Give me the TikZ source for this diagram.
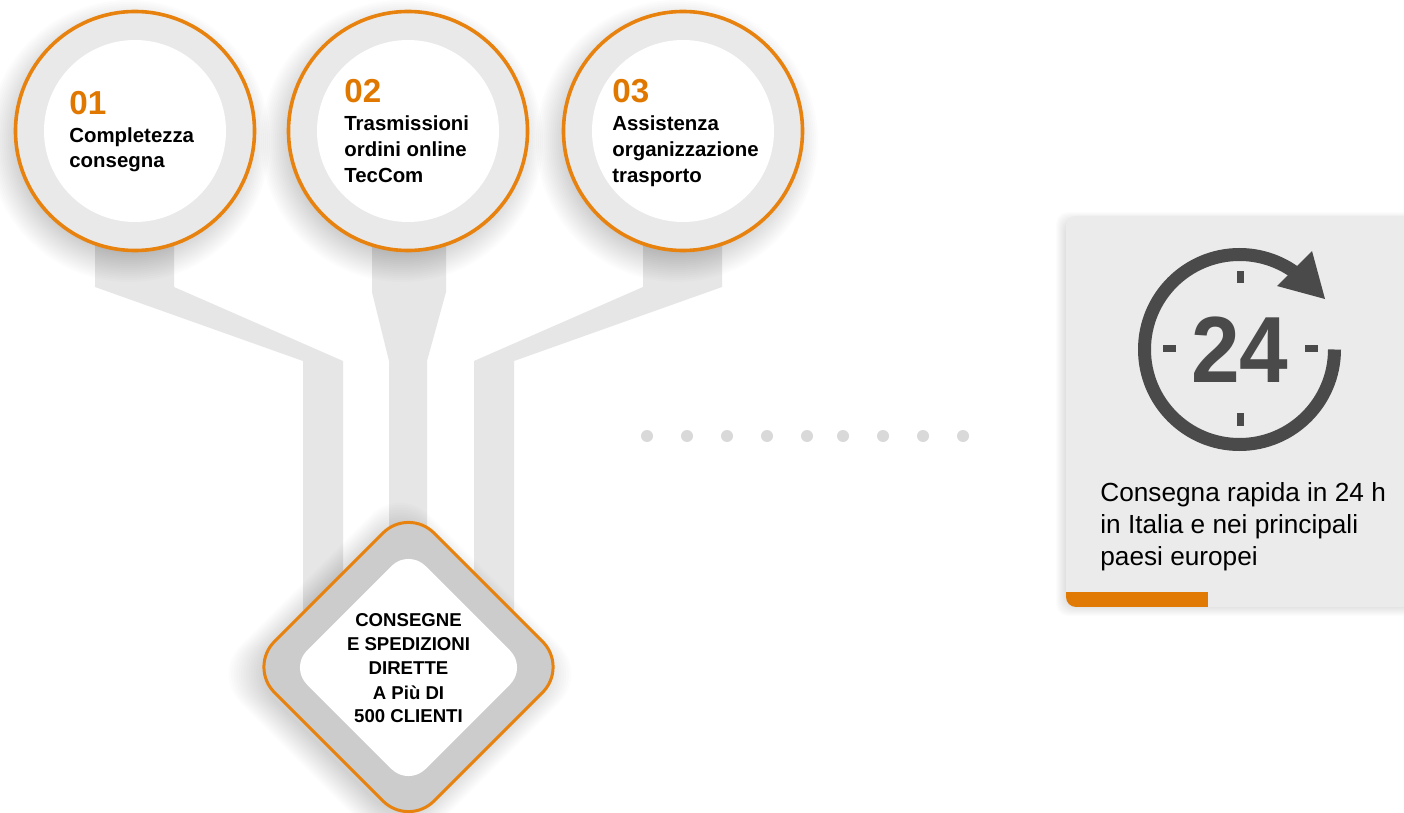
\documentclass[tikz,border=0pt]{standalone}
\usepackage{fontspec}
\setmainfont{Liberation Sans}
\definecolor{orangeA}{HTML}{E8820F}
\definecolor{orangeT}{HTML}{E07800}
\definecolor{orangeB}{HTML}{E07A05}
\definecolor{ringgray}{HTML}{E9E9E9}
\definecolor{armgray}{HTML}{E6E6E6}
\definecolor{diagray}{HTML}{CCCCCC}
\definecolor{dotgray}{HTML}{D9D9D9}
\definecolor{cardgray}{HTML}{EBEBEB}
\definecolor{icongray}{HTML}{4A4A4A}
\newcommand{\dpath}[3]{({#1-0.5*(#3)},{#2-0.5*(#3)}) -- ({#1},{#2-(#3)}) -- ({#1+(#3)},{#2}) -- ({#1},{#2+(#3)}) -- ({#1-(#3)},{#2}) -- cycle}
\tikzset{
  ring/.style={circle,draw=orangeA,line width=1.8pt,fill=ringgray,minimum size=119.5pt,inner sep=0pt,outer sep=0pt},
  hole/.style={circle,fill=white,minimum size=91pt,inner sep=0pt,outer sep=0pt},
  num/.style={anchor=base west,inner sep=0pt,text=orangeT,font=\fontsize{16.6}{18}\selectfont\bfseries},
  lbl/.style={anchor=base west,inner sep=0pt,text=black,font=\fontsize{10.2}{12}\selectfont\bfseries},
  dlbl/.style={anchor=base,inner sep=0pt,text=black,font=\fontsize{9.3}{11}\selectfont\bfseries},
  cardtxt/.style={anchor=base west,inner sep=0pt,text=black,font=\fontsize{13.1}{15}\selectfont},
  arm/.style={fill=armgray},
  dotm/.style={circle,fill=dotgray,minimum size=6pt,inner sep=0pt},
  tick/.style={fill=icongray}
}
\begin{document}
\begin{tikzpicture}[x=0.5pt,y=-0.5pt]
\useasboundingbox (0,0) rectangle (1404,813);
\clip (0,0) rectangle (1404,813);
\fill[white] (0,0) rectangle (1404,813);
% arms
\fill[arm] (95,240) -- (95,287) -- (303,361) -- (303,610) -- (343,610) -- (343,361) -- (174,287) -- (174,240) -- cycle;
\fill[arm] (372,240) -- (372,292) -- (389,361) -- (389,540) -- (427,540) -- (427,361) -- (446,292) -- (446,240) -- cycle;
\fill[arm] (643,240) -- (643,287) -- (474,361) -- (474,610) -- (514,610) -- (514,361) -- (722,287) -- (722,240) -- cycle;
% circle shadows
\foreach \cx in {135,408,683}{
  \foreach \i in {0,...,19}{
    \fill[black,opacity=0.013] (\cx-6,131+10) circle[radius=141-\i*2];
  }
}
\node[ring] (c1) at (135,131) {};
\node[ring] (c2) at (408,131) {};
\node[ring] (c3) at (683,131) {};
\node[hole] (h1) at (c1) {};
\node[hole] (h2) at (c2) {};
\node[hole] (h3) at (c3) {};
\node[num] (n1) at (69,115) {01};
\node[lbl] (t1a) at (69,143) {Completezza};
\node[lbl] (t1b) at (69,168) {consegna};
\node[num] (n2) at (344,103) {02};
\node[lbl] (t2a) at (344,131) {Trasmissioni};
\node[lbl] (t2b) at (344,157) {ordini online};
\node[lbl] (t2c) at (344,183) {TecCom};
\node[num] (n3) at (612,103) {03};
\node[lbl] (t3a) at (612,131) {Assistenza};
\node[lbl] (t3b) at (612,157) {organizzazione};
\node[lbl] (t3c) at (612,183) {trasporto};
% diamond
\foreach \i in {0,...,14}{
  \fill[black,opacity=0.011,rounded corners=20pt] \dpath{400}{674}{188-\i*2.5};
}
\draw[fill=diagray,draw=orangeA,line width=1.5pt,rounded corners=18pt] \dpath{408.5}{667}{159.5};
\fill[white,rounded corners=12pt] \dpath{408.5}{667.5}{118.5};
\coordinate (d) at (408.5,667);
\node[dlbl] (d1) at (408.5,626) {CONSEGNE};
\node[dlbl] (d2) at (408.5,650) {E SPEDIZIONI};
\node[dlbl] (d3) at (408.5,674) {DIRETTE};
\node[dlbl] (d4) at (408.5,699) {A Più DI};
\node[dlbl] (d5) at (408.5,722) {500 CLIENTI};
% dots
\foreach \x [count=\k] in {647,687,727,767,807,843,883,923,963}{
  \node[dotm] (dot\k) at (\x,436) {};
}
% card
\foreach \i in {0,...,9}{
  \fill[black,opacity=0.012,rounded corners=6pt] (1056+\i,212+\i) rectangle (1420,616-\i);
}
\fill[cardgray,rounded corners=5pt] (1066,216) rectangle (1420,607);
\begin{scope}
\clip[rounded corners=5pt] (1066,216) rectangle (1420,607);
\fill[orangeB] (1066,592) rectangle (1208,607);
\end{scope}
% clock icon
\coordinate (clk) at (1240,349.5);
\draw[icongray,line width=6.5pt] (1334.5,349.5) arc[start angle=0,end angle=305,radius=95];
\fill[icongray] (1312,251) -- (1325,299) -- (1277,286) -- cycle;
\fill[tick] (1237,271) rectangle (1244,283);
\fill[tick] (1237,413) rectangle (1244,426);
\fill[tick] (1163,345) rectangle (1176,352);
\fill[tick] (1305,345) rectangle (1318,352);
\node[anchor=base,inner sep=0pt,text=icongray,font=\fontsize{47}{50}\selectfont\bfseries,xscale=0.93] (h24) at (1240,382) {24};
\node[cardtxt] (k1) at (1100,501) {Consegna rapida in 24 h};
\node[cardtxt] (k2) at (1100,533) {in Italia e nei principali};
\node[cardtxt] (k3) at (1100,565) {paesi europei};
\end{tikzpicture}
\end{document}
